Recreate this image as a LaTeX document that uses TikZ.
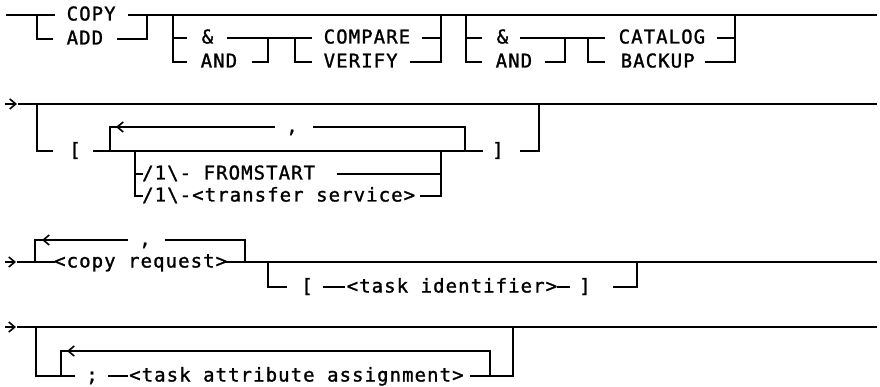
\documentclass[tikz,border=0pt]{standalone}
\usepackage{fontspec}
\newfontfamily\rrfont[LetterSpace=5.6,FakeBold=1.3]{DejaVu Sans Mono}
\usetikzlibrary{arrows.meta}
\begin{document}
\begin{tikzpicture}[x=1pt,y=-1pt,
  rail/.style={line width=1.7pt},
  lbl/.style={font={\rrfont\fontsize{19}{21}\selectfont}, inner sep=0pt, anchor=base west},
  ch/.style={lbl, anchor=base},
  arr/.style={line width=1.6pt,-{Straight Barb[length=6pt,width=10pt]}},
  back/.style={line width=1.6pt,-{Straight Barb[length=6pt,width=10pt]}}]
\useasboundingbox (0,0) rectangle (880,387);
% ---------------- row 1
\draw[rail] (6,15) -- (55,15);
\draw[rail] (128,15) -- (877,15);
\node[lbl] (copy) at (66.5,20.5) {COPY};
\node[lbl] (add) at (66.5,44.5) {ADD};
\draw[rail] (37,15) |- (53,39);
\draw[rail] (117,39) -| (147,15);
% & / AND
\draw[rail] (187,38) -| (173,15);
\draw[rail] (173,38) |- (187,62);
\node[ch] (amp1) at (207.5,43.5) {\&};
\node[lbl] (and1) at (200.5,67.5) {AND};
\draw[rail] (227,38) -- (312,38);
\draw[rail] (252,62) -| (268,38);
% COMPARE / VERIFY
\draw[rail] (295,38) |- (312,62);
\node[lbl] (compare) at (323.5,43.5) {COMPARE};
\node[lbl] (verify) at (323.5,67.5) {VERIFY};
\draw[rail] (422,38) -- (441,38);
\draw[rail] (410,62) -| (441,15);
% & / AND
\draw[rail] (482,38) -| (466,15);
\draw[rail] (466,38) |- (482,62);
\node[ch] (amp2) at (502.5,43.5) {\&};
\node[lbl] (and2) at (495.5,67.5) {AND};
\draw[rail] (520,38) -- (605,38);
\draw[rail] (545,62) -| (565,38);
% CATALOG / BACKUP
\draw[rail] (588,38) |- (605,62);
\node[lbl] (catalog) at (618.5,43.5) {CATALOG};
\node[lbl] (backup) at (620.5,67.5) {BACKUP};
\draw[rail] (717,38) -- (735,38);
\draw[rail] (705,62) -| (735,15);
% ---------------- row 2
\draw[arr] (5,104) -- (17,104);
\draw[rail] (18,104) -- (877,104);
\draw[rail] (37,104) |- (53,151);
\node[ch] (lb1) at (75,156.5) {[};
\draw[rail] (93,151) -- (483,151);
\node[ch] (rb1) at (498,156.5) {]};
\draw[rail] (520,151) -| (539,104);
% repeat loop
\draw[rail] (110,151) |- (275,127);
\draw[back] (127,127) -- (116,127);
\node[ch] (comma1) at (292,132.5) {,};
\draw[rail] (313,127) -| (465,151);
% choice
\draw[rail] (135,151) |- (143,196);
\draw[rail] (135,174) -- (143,174);
\node[lbl] (fromstart) at (142,179.5) {/1\textbackslash- FROMSTART};
\draw[rail] (337,174) -- (441,174);
\node[lbl] (transfer) at (142,201.5) {/1\textbackslash-<transfer service>};
\draw[rail] (420,196) -| (441,151);
% ---------------- row 3
\draw[arr] (5,262) -- (16,262);
\draw[rail] (17,262) -- (55,262);
\node[lbl] (copyreq) at (54,267.5) {<copy request>};
\draw[rail] (225,262) -- (877,262);
\draw[rail] (35,262) |- (128,240);
\draw[back] (53,240) -- (42,240);
\node[ch] (comma2) at (145,245.5) {,};
\draw[rail] (165,240) -| (245,262);
\draw[rail] (268,262) |- (287,287);
\node[ch] (lb2) at (307,292.5) {[};
\draw[rail] (323,287) -- (345,287);
\node[lbl] (taskid) at (346.5,292.5) {<task identifier>};
\draw[rail] (557,287) -- (570,287);
\node[ch] (rb2) at (585,292.5) {]};
\draw[rail] (613,287) -| (637,262);
% ---------------- row 4
\draw[arr] (5,327) -- (16,327);
\draw[rail] (17,327) -- (877,327);
\draw[rail] (36,327) |- (75,376);
\draw[rail] (61,376) |- (490,351) -- (490,376);
\draw[back] (78,351) -- (67,351);
\node[ch] (semi) at (92,381.5) {;};
\draw[rail] (108,376) -- (128,376);
\node[lbl] (taskattr) at (129,381.5) {<task attribute assignment>};
\draw[rail] (470,376) -| (513,327);
\end{tikzpicture}
\end{document}
